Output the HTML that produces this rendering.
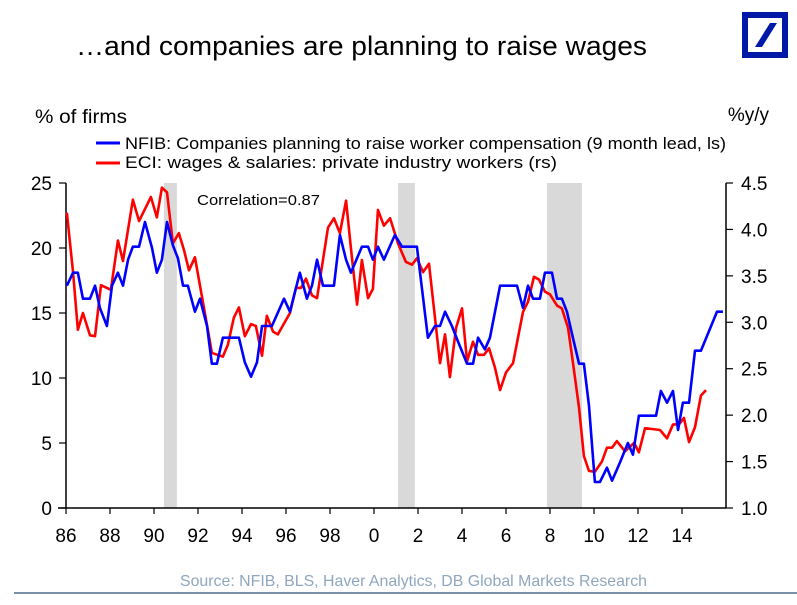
<!DOCTYPE html>
<html><head><meta charset="utf-8"><style>
body{margin:0;background:#fff;width:797px;height:600px;overflow:hidden;font-family:"Liberation Sans",Arial,sans-serif}
svg text{font-family:"Liberation Sans",Arial,sans-serif}
</style></head><body>
<svg id="chart" width="797" height="600">
<text x="76" y="55" font-size="27" textLength="571" lengthAdjust="spacingAndGlyphs" fill="#000">…and companies are planning to raise wages</text>
<g>
<rect x="745" y="15" width="40" height="40" fill="none" stroke="#0018a8" stroke-width="6"/>
<polygon points="770,23 777,23 762,47 755,47" fill="#0018a8"/>
</g>
<text x="35" y="123" font-size="19" textLength="92" lengthAdjust="spacingAndGlyphs">% of firms</text>
<text x="769" y="121" font-size="19" text-anchor="end">%y/y</text>
<g>
<line x1="96" y1="143" x2="120" y2="143" stroke="#0000ff" stroke-width="3"/>
<text x="125" y="149" font-size="17" textLength="601" lengthAdjust="spacingAndGlyphs">NFIB: Companies planning to raise worker compensation (9 month lead, ls)</text>
<line x1="96" y1="163" x2="120" y2="163" stroke="#ff0000" stroke-width="3"/>
<text x="125" y="168" font-size="17" textLength="432" lengthAdjust="spacingAndGlyphs">ECI: wages &amp; salaries: private industry workers (rs)</text>
</g>
<g id="bands"></g>
<g id="axes"></g>
<g id="series"></g>
<text x="197" y="205" font-size="15" textLength="123" lengthAdjust="spacingAndGlyphs">Correlation=0.87</text>
<text x="180" y="586" font-size="16" fill="#8fa6bf" textLength="467" lengthAdjust="spacingAndGlyphs">Source:  NFIB, BLS, Haver Analytics, DB Global Markets Research</text>
<line x1="14" y1="593" x2="797" y2="593" stroke="#7a90a8" stroke-width="2"/>
</svg>
<script>
const leftTicks=[0,5,10,15,20,25];
const rightTicks=["1.0","1.5","2.0","2.5","3.0","3.5","4.0","4.5"];
const xTickYears=[1986,1988,1990,1992,1994,1996,1998,2000,2002,2004,2006,2008,2010,2012,2014];
const xTickLabels=["86","88","90","92","94","96","98","0","2","4","6","8","10","12","14"];
const recessionStart=[1990.45,2001.09,2007.86];
const recessionEnd=[1991.04,2001.86,2009.45];
const nfibYears=[1986.04,1986.32,1986.54,1986.77,1987.09,1987.32,1987.54,1987.86,1988.09,1988.36,1988.59,1988.82,1989.04,1989.32,1989.59,1989.91,1990.13,1990.36,1990.59,1990.86,1991.09,1991.32,1991.54,1991.86,1992.09,1992.41,1992.63,1992.86,1993.13,1993.86,1994.13,1994.41,1994.68,1994.91,1995.36,1995.91,1996.18,1996.63,1996.95,1997.18,1997.41,1997.68,1998.18,1998.45,1998.73,1998.95,1999.45,1999.73,1999.95,2000.18,2000.45,2000.95,2001.27,2001.95,2002.45,2002.77,2003.0,2003.23,2003.54,2003.82,2004.23,2004.5,2004.73,2005.04,2005.27,2005.73,2006.5,2006.77,2007.0,2007.23,2007.54,2007.77,2008.09,2008.32,2008.54,2008.77,2009.04,2009.32,2009.54,2009.77,2010.04,2010.27,2010.59,2010.82,2011.18,2011.54,2011.77,2012.04,2012.82,2013.04,2013.32,2013.59,2013.82,2014.04,2014.32,2014.59,2014.86,2015.59,2015.86];
const nfibValues=[17.1,18.1,18.1,16.1,16.1,17.1,15.4,14.0,17.1,18.1,17.1,19.1,20.1,20.1,22.0,20.0,18.1,19.1,22.0,20.2,19.2,17.1,17.1,15.1,16.1,14.0,11.1,11.1,13.1,13.1,11.2,10.1,11.2,14.0,14.0,16.1,15.1,18.1,16.1,17.1,19.1,17.1,17.1,21.0,19.1,18.1,20.1,20.1,19.1,20.1,19.1,21.0,20.1,20.1,13.1,14.0,14.0,15.1,14.0,12.8,11.1,11.1,13.1,12.2,13.1,17.1,17.1,15.4,17.1,16.1,16.1,18.1,18.1,16.1,16.1,15.1,13.1,11.1,11.1,7.9,2.0,2.0,3.1,2.1,3.5,5.0,4.1,7.1,7.1,9.0,8.1,9.0,6.0,8.1,8.1,12.1,12.1,15.1,15.1];
const eciYears=[1986.04,1986.32,1986.54,1986.77,1987.09,1987.32,1987.59,1988.04,1988.36,1988.59,1989.04,1989.32,1989.86,1990.13,1990.36,1990.59,1990.86,1991.13,1991.36,1991.59,1991.86,1992.41,1992.63,1993.13,1993.36,1993.63,1993.86,1994.13,1994.41,1994.63,1994.91,1995.13,1995.41,1995.63,1996.18,1996.45,1996.68,1996.91,1997.18,1997.41,1997.91,1998.18,1998.45,1998.73,1998.95,1999.23,1999.45,1999.73,1999.95,2000.18,2000.45,2000.73,2001.09,2001.45,2001.73,2001.95,2002.23,2002.5,2003.0,2003.23,2003.45,2003.73,2004.0,2004.23,2004.5,2004.73,2005.0,2005.23,2005.5,2005.73,2006.0,2006.32,2006.77,2007.0,2007.27,2007.5,2007.77,2008.0,2008.32,2008.54,2008.82,2009.04,2009.32,2009.54,2009.77,2010.04,2010.36,2010.59,2010.82,2011.04,2011.41,2011.82,2012.04,2012.32,2013.0,2013.32,2013.59,2013.86,2014.09,2014.32,2014.59,2014.86,2015.09];
const eciValues=[4.18,3.54,2.92,3.10,2.86,2.85,3.40,3.35,3.88,3.66,4.32,4.09,4.35,4.13,4.45,4.40,3.85,3.96,3.78,3.56,3.70,2.97,2.67,2.63,2.76,3.05,3.16,2.85,2.98,2.96,2.64,3.07,2.90,2.87,3.10,3.37,3.37,3.47,3.29,3.26,4.02,4.12,3.96,4.31,3.80,3.19,3.67,3.26,3.36,4.21,4.04,4.12,3.85,3.65,3.62,3.69,3.54,3.63,2.56,2.87,2.41,2.94,3.15,2.58,2.79,2.65,2.65,2.72,2.51,2.27,2.46,2.56,3.11,3.22,3.49,3.46,3.33,3.30,3.18,3.15,2.94,2.57,2.08,1.56,1.40,1.39,1.50,1.65,1.65,1.72,1.61,1.70,1.60,1.86,1.84,1.75,1.90,1.90,1.97,1.71,1.87,2.21,2.27];

const L=66,R=726,T=183,B=508;
const x=y=>L+(y-1986)*(R-L)/30;
const yl=v=>B-v*(B-T)/25;
const yr=v=>B-(v-1)*(B-T)/3.5;
const NS='http://www.w3.org/2000/svg';
function mk(tag,attrs,parent){const e=document.createElementNS(NS,tag);for(const k in attrs)e.setAttribute(k,attrs[k]);document.getElementById(parent).appendChild(e);return e;}

recessionStart.forEach((s,i)=>{
  const r=mk('rect',{x:x(s),y:T,width:x(recessionEnd[i])-x(s),height:B-T,fill:'#d9d9d9'},'bands');
  
  
});
let a=mk('line',{x1:L,y1:T,x2:L,y2:B,stroke:'#000','stroke-width':1.5},'axes');


a=mk('line',{x1:R,y1:T,x2:R,y2:B,stroke:'#000','stroke-width':1.5},'axes');


a=mk('line',{x1:L-8,y1:B,x2:R,y2:B,stroke:'#000','stroke-width':1.5},'axes');


leftTicks.forEach(v=>{
  mk('line',{x1:L-7,y1:yl(v),x2:L,y2:yl(v),stroke:'#000','stroke-width':1.2},'axes');
  const t=mk('text',{x:L-14,y:yl(v)+7,'font-size':19,'text-anchor':'end'},'axes');t.textContent=v;
  
  
});
rightTicks.forEach(v=>{
  mk('line',{x1:R,y1:yr(+v),x2:R+7,y2:yr(+v),stroke:'#000','stroke-width':1.2},'axes');
  const t=mk('text',{x:R+15,y:yr(+v)+7,'font-size':19},'axes');t.textContent=v;
  
  
});
xTickYears.forEach((yv,i)=>{
  mk('line',{x1:x(yv),y1:B,x2:x(yv),y2:B+6,stroke:'#000','stroke-width':1.2},'axes');
  const t=mk('text',{x:x(yv),y:542,'font-size':19,'text-anchor':'middle'},'axes');t.textContent=xTickLabels[i];
  
  
});
let p=mk('polyline',{points:eciValues.map((v,i)=>x(eciYears[i])+','+yr(v)).join(' '),fill:'none',stroke:'#ff0000','stroke-width':2.6,'stroke-linejoin':'round'},'series');


p=mk('polyline',{points:nfibValues.map((v,i)=>x(nfibYears[i])+','+yl(v)).join(' '),fill:'none',stroke:'#0000ff','stroke-width':2.6,'stroke-linejoin':'round'},'series');


</script>
</body></html>
